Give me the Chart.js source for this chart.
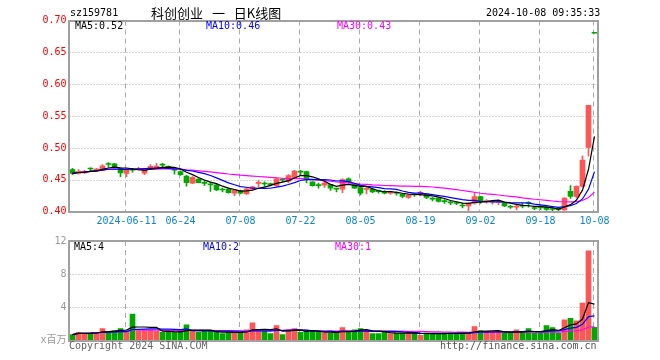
<!DOCTYPE html>
<html><head><meta charset="utf-8">
<script src="https://cdn.jsdelivr.net/npm/chart.js@4.4.1/dist/chart.umd.min.js"></script>
<style>
html,body{margin:0;padding:0;background:#fff;}
#wrap{position:relative;width:660px;height:360px;overflow:hidden;}
.t{position:absolute;white-space:pre;font-family:'DejaVu Sans Mono',monospace;font-size:10px;line-height:12px;}
canvas{position:absolute;left:0;}
</style></head><body>
<div id="wrap">
<canvas id="k" width="660" height="232" style="top:0"></canvas>
<canvas id="v" width="660" height="128" style="top:232px"></canvas>
<div class="t" style="left:70px;top:7px;color:#000">sz159781</div>
<div class="t" style="left:151px;top:4px;font-family:'Noto Sans CJK SC',sans-serif;font-size:13px;line-height:17px;word-spacing:6px;color:#000">科创创业 一 日K线图</div>
<div class="t" style="left:486px;top:7px;color:#000">2024-10-08 09:35:33</div>
<div class="t" id="pl0" style="left:75px;top:20px;color:#000"></div>
<div class="t" id="pl1" style="left:206px;top:20px;color:#0000ff"></div>
<div class="t" id="pl2" style="left:337px;top:20px;color:#ff00ff"></div>
<div class="t" id="vl0" style="left:74px;top:241px;color:#000"></div>
<div class="t" id="vl1" style="left:203px;top:241px;color:#0000ff"></div>
<div class="t" id="vl2" style="left:335px;top:241px;color:#ff00ff"></div>
<div class="t" style="left:69px;top:340px;color:#666">Copyright 2024 SINA.COM</div>
<div class="t" style="left:440px;top:340px;color:#555">http://finance.sina.com.cn</div>
</div>
<script>
// ---- data ----
const dates = ['05-28','05-29','05-30','05-31',
 '06-03','06-04','06-05','06-06','06-07','06-11','06-12','06-13','06-14','06-17','06-18','06-19','06-20','06-21','06-24','06-25','06-26','06-27','06-28',
 '07-01','07-02','07-03','07-04','07-05','07-08','07-09','07-10','07-11','07-12','07-15','07-16','07-17','07-18','07-19','07-22','07-23','07-24','07-25','07-26','07-29','07-30','07-31',
 '08-01','08-02','08-05','08-06','08-07','08-08','08-09','08-12','08-13','08-14','08-15','08-16','08-19','08-20','08-21','08-22','08-23','08-26','08-27','08-28','08-29','08-30',
 '09-02','09-03','09-04','09-05','09-06','09-09','09-10','09-11','09-12','09-13','09-18','09-19','09-20','09-23','09-24','09-25','09-26','09-27','09-30',
 '10-08'];
const tickDates = ['06-11','06-24','07-08','07-22','08-05','08-19','09-02','09-18','10-08'];
const tickText  = ['2024-06-11','06-24','07-08','07-22','08-05','08-19','09-02','09-18','10-08'];
const open  = [0.466,0.460,0.461,0.4675,0.464,0.467,0.4745,0.475,0.468,0.460,0.4655,0.466,0.4605,0.4665,0.468,0.4735,0.471,0.4655,0.463,0.456,
 0.4446,0.451,0.445,0.4425,0.442,0.4345,0.4355,0.429,0.4331,0.428,0.435,0.4445,0.444,0.443,0.441,0.450,0.448,0.453,0.4625,0.463,
 0.4467,0.4412,0.4415,0.4425,0.436,0.4355,0.4515,0.4425,0.438,0.435,0.4355,0.432,0.4318,0.429,0.4295,0.4275,0.4223,0.4268,0.4287,0.428,
 0.4205,0.4212,0.4163,0.4143,0.4133,0.4095,0.409,0.4133,0.4239,0.416,0.4155,0.415,0.4133,0.4075,0.407,0.409,0.4135,0.4055,0.4065,0.407,
 0.404,0.4035,0.4027,0.4318,0.4239,0.4398,0.501,0.681];
const high  = [0.468,0.466,0.465,0.469,0.468,0.474,0.477,0.476,0.469,0.467,0.468,0.4695,0.468,0.474,0.476,0.476,0.472,0.467,0.464,0.457,
 0.455,0.452,0.448,0.446,0.443,0.437,0.437,0.435,0.434,0.437,0.440,0.449,0.447,0.445,0.453,0.452,0.4584,0.465,0.465,0.4637,
 0.447,0.445,0.446,0.443,0.437,0.4515,0.453,0.444,0.439,0.440,0.437,0.434,0.433,0.432,0.431,0.428,0.426,0.428,0.432,0.4285,
 0.422,0.4215,0.419,0.416,0.415,0.413,0.414,0.4302,0.424,0.419,0.418,0.418,0.414,0.410,0.410,0.413,0.416,0.408,0.409,0.409,
 0.406,0.405,0.422,0.4409,0.4405,0.4875,0.567,0.681];
const low   = [0.458,0.459,0.460,0.464,0.463,0.465,0.470,0.469,0.455,0.455,0.462,0.465,0.458,0.466,0.467,0.470,0.467,0.459,0.457,0.440,
 0.444,0.445,0.441,0.432,0.433,0.431,0.429,0.425,0.428,0.427,0.434,0.439,0.440,0.440,0.440,0.447,0.445,0.452,0.458,0.445,
 0.440,0.437,0.438,0.4334,0.431,0.430,0.445,0.436,0.4265,0.428,0.430,0.429,0.428,0.427,0.426,0.422,0.421,0.424,0.425,0.4205,
 0.417,0.415,0.413,0.411,0.411,0.406,0.4015,0.412,0.413,0.4135,0.412,0.411,0.408,0.405,0.4027,0.406,0.407,0.403,0.403,0.402,
 0.401,0.400,0.402,0.421,0.422,0.439,0.487,0.680];
const close = [0.460,0.463,0.463,0.467,0.467,0.472,0.474,0.470,0.461,0.466,0.465,0.467,0.4655,0.471,0.4715,0.473,0.468,0.465,0.458,0.4457,
 0.454,0.4457,0.4445,0.442,0.434,0.434,0.430,0.4342,0.429,0.436,0.439,0.4455,0.4435,0.4425,0.4515,0.4495,0.4568,0.4637,0.462,0.4504,
 0.441,0.4408,0.445,0.437,0.4355,0.4504,0.447,0.437,0.429,0.4357,0.431,0.4315,0.4292,0.431,0.429,0.4239,0.4255,0.4262,0.4295,0.4225,
 0.4198,0.416,0.4158,0.4138,0.4128,0.409,0.4133,0.4239,0.416,0.4175,0.4165,0.4165,0.409,0.407,0.409,0.4085,0.413,0.405,0.406,0.4035,
 0.4035,0.403,0.4212,0.4239,0.4398,0.481,0.567,0.680];
const volume = [0.71,1.0,0.9,0.9,1.0,1.43,1.1,1.2,1.43,1.1,3.2,1.2,1.2,1.2,1.1,1.0,1.0,1.0,1.1,1.9,
 1.2,1.0,1.1,1.1,1.0,0.83,1.0,1.0,1.0,1.3,2.14,1.2,1.1,0.83,1.8,0.71,1.3,1.43,1.0,1.1,
 1.1,1.0,0.9,0.9,0.95,1.55,1.03,1.3,1.43,1.23,0.83,0.83,1.03,0.83,0.9,0.9,0.9,0.9,0.63,0.9,
 0.83,0.83,0.9,0.9,0.9,0.9,0.9,1.67,1.2,1.03,1.03,1.03,0.9,0.9,1.3,0.9,1.43,0.9,0.9,1.8,
 1.55,0.9,2.5,2.66,2.38,4.5,10.8,1.6];
const priceTicks = [0.40,0.45,0.50,0.55,0.60,0.65,0.70];
const volTicks = [0,4,8,12];
const priceLegend = ['MA5:0.52','MA10:0.46','MA30:0.43'];
const volLegend = ['MA5:4','MA10:2','MA30:1'];

// ---- helpers ----
const RED = '#ff5555', GREEN = '#00a800';
const MA_COLORS = ['#000000','#0000ff','#ff00ff'];
const MA_N = [5,10,30];
const FONT = "'DejaVu Sans Mono','Noto Sans CJK SC',monospace";
function movingAvg(arr, n){
  return arr.map((_, i) => { const s = Math.max(0, i - n + 1); let sum = 0; for (let j = s; j <= i; j++) sum += arr[j]; return sum / (i - s + 1); });
}
const candleColor = close.map((c, i) => c >= open[i] ? RED : GREEN);
const tickIdx = tickDates.map(d => dates.indexOf(d));
priceLegend.forEach((t,i)=>document.getElementById('pl'+i).textContent=t);
volLegend.forEach((t,i)=>document.getElementById('vl'+i).textContent=t);

const gridPlugin = {
  id: 'sinaGrid',
  beforeDatasetsDraw(chart, args, opts){
    const {ctx, chartArea: a, scales} = chart;
    ctx.save();
    ctx.lineWidth = 1; ctx.strokeStyle = '#a8a8a8';
    ctx.setLineDash([1,2]);
    opts.hLines.forEach(v => {
      const y = Math.round(scales.y.getPixelForValue(v)) + 0.5;
      ctx.beginPath(); ctx.moveTo(a.left, y); ctx.lineTo(a.right, y); ctx.stroke();
    });
    ctx.setLineDash([5,4]);
    tickIdx.forEach(i => {
      const x = Math.round(scales.x.getPixelForValue(i)) - 1.5;
      ctx.beginPath(); ctx.moveTo(x, a.top); ctx.lineTo(x, a.bottom); ctx.stroke();
    });
    ctx.restore();
  },
  afterDatasetsDraw(chart){
    const {ctx, chartArea: a} = chart;
    ctx.save();
    ctx.strokeStyle = '#a0a0a0'; ctx.lineWidth = 2; ctx.setLineDash([]);
    const l = Math.floor(a.left), r = Math.ceil(a.right), t = Math.round(a.top), b = Math.round(a.bottom);
    ctx.strokeRect(l, t, r - l, b - t);
    ctx.restore();
  }
};

function maSets(src){
  return MA_N.map((n, k) => ({
    type: 'line', data: movingAvg(src, n), borderColor: MA_COLORS[k], borderWidth: 1.2,
    pointRadius: 0, tension: 0, fill: false, order: 0
  }));
}

// ---- price chart ----
new Chart(document.getElementById('k'), {
  type: 'bar',
  data: {
    labels: dates,
    datasets: [
      ...maSets(close),
      { data: open.map((o, i) => [o, close[i]]), backgroundColor: candleColor, barThickness: 5, minBarLength: 1, grouped: false, order: 1 },
      { data: low.map((l, i) => [l, high[i]]), backgroundColor: candleColor, barThickness: 1, minBarLength: 1, grouped: false, order: 2 }
    ]
  },
  options: {
    responsive: false, animation: false, events: [], devicePixelRatio: 1,
    layout: { padding: { top: 20.5, right: 62.5, left: 0, bottom: 0 } },
    plugins: { legend: { display: false }, tooltip: { enabled: false }, sinaGrid: { hLines: priceTicks.slice(1, -1) } },
    scales: {
      x: {
        offset: true, grid: { display: false, drawTicks: false }, border: { display: false },
        ticks: { autoSkip: false, maxRotation: 0, minRotation: 0, padding: 4, color: '#0a84d6', font: { family: FONT, size: 10 },
          callback: (v, i) => { const k = tickDates.indexOf(dates[i]); return k >= 0 ? tickText[k] : ''; } },
        afterFit(s){ s.height = 20.3; }
      },
      y: {
        min: priceTicks[0], max: priceTicks[priceTicks.length - 1],
        grid: { display: false, drawTicks: false }, border: { display: false },
        ticks: { stepSize: 0.05, padding: 3, color: '#ff0000', font: { family: FONT, size: 10 }, callback: v => Number(v).toFixed(2) },
        afterFit(s){ s.width = 69.5; }
      }
    }
  },
  plugins: [gridPlugin]
});

// ---- volume chart ----
new Chart(document.getElementById('v'), {
  type: 'bar',
  data: {
    labels: dates,
    datasets: [
      ...maSets(volume),
      { data: volume, backgroundColor: candleColor, barThickness: 5, grouped: false, order: 1 }
    ]
  },
  options: {
    responsive: false, animation: false, events: [], devicePixelRatio: 1,
    layout: { padding: { top: 9, right: 62.5, left: 0, bottom: 19.5 } },
    plugins: { legend: { display: false }, tooltip: { enabled: false }, sinaGrid: { hLines: volTicks.slice(1, -1) } },
    scales: {
      x: { display: false, offset: true },
      y: {
        min: volTicks[0], max: volTicks[volTicks.length - 1],
        grid: { display: false, drawTicks: false }, border: { display: false },
        ticks: { stepSize: 4, padding: 3, color: '#999999', font: { family: FONT, size: 10 }, callback: v => v === 0 ? 'x百万' : String(v) },
        afterFit(s){ s.width = 69.5; }
      }
    }
  },
  plugins: [gridPlugin]
});
</script>
</body></html>
